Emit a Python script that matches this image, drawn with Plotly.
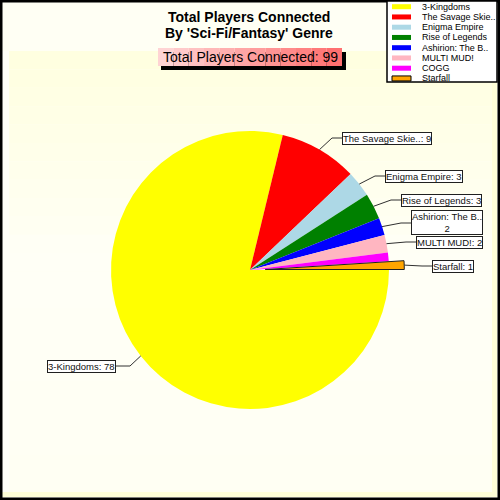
import math

import plotly.graph_objects as go

# data
games = ["3-Kingdoms", "The Savage Skie..", "Enigma Empire", "Rise of Legends",
         "Ashirion: The B..", "MULTI MUD!", "COGG", "Starfall"]
players = [78, 9, 3, 3, 2, 2, 1, 1]
slice_colors = ["#FFFF00", "#FF0000", "#ADD8E6", "#008000",
                "#0000FF", "#FFB6C1", "#FF00FF", "#FFA500"]
pulled = [0, 0, 0, 0, 0, 0, 0, 0.11]
show_label = [True, True, True, True, True, True, False, True]

title_lines = ["Total Players Connected", "By 'Sci-Fi/Fantasy' Genre"]
subtitle = "Total Players Connected: %d" % sum(players)

# layout constants (pixels, origin top-left)
W, H = 500, 500
CX, CY, R = 250, 270, 139
FONT = "Arial, Liberation Sans, sans-serif"
# callout boxes: (anchor x, centre y, side)
label_boxes = [(116, 366, "right"), (342, 138, "left"), (385, 176, "left"),
               (401, 200, "left"), (411, 223, "left"), (416, 242, "left"),
               None, (432, 266, "left")]


def px(x):
    return x / W


def py(y):
    return 1 - y / H


max_pull = max(pulled)
half = R * (1 + max_pull)

fig = go.Figure(go.Pie(
    labels=games,
    values=players,
    sort=False,
    direction="clockwise",
    rotation=90,
    pull=pulled,
    textinfo="none",
    hoverinfo="label+value",
    marker=dict(colors=slice_colors,
                line=dict(color=["rgba(0,0,0,0)"] * 7 + ["#202020"],
                          width=[0] * 7 + [1])),
    domain=dict(x=[px(CX - half), px(CX + half)],
                y=[py(CY + half), py(CY - half)]),
))

shapes = []
annotations = []

# background
shapes.append(dict(type="rect", xref="paper", yref="paper", x0=0, y0=0, x1=1, y1=1,
                   fillcolor="#FFFFF4", line=dict(width=0), layer="below"))
top_band = 51
bottom_band = 492
n_bands = 24
for i in range(n_bands):
    y0 = top_band + (bottom_band - top_band) * i / n_bands
    y1 = top_band + (bottom_band - top_band) * (i + 1) / n_bands
    t = i / (n_bands - 1)
    b = int(224 + 22 * min(1, t * 2.2) - 6 * max(0, t - 0.6))
    shapes.append(dict(type="rect", xref="paper", yref="paper",
                       x0=px(9), x1=px(492), y0=py(y1), y1=py(y0),
                       fillcolor="rgb(255,255,%d)" % b, line=dict(width=0), layer="below"))
shapes.append(dict(type="rect", xref="paper", yref="paper", x0=px(2), x1=px(9),
                   y0=py(492), y1=py(51), fillcolor="#FFFFF8", line=dict(width=0), layer="below"))
shapes.append(dict(type="rect", xref="paper", yref="paper", x0=px(2), x1=px(497),
                   y0=py(497), y1=py(492), fillcolor="#FFFFD8", line=dict(width=0), layer="below"))
shapes.append(dict(type="rect", xref="paper", yref="paper", x0=px(492), x1=px(497),
                   y0=py(497), y1=py(51), fillcolor="#FFFFD8", line=dict(width=0), layer="below"))
shapes.append(dict(type="rect", xref="paper", yref="paper", x0=0, y0=0, x1=1, y1=1,
                   line=dict(color="black", width=5), fillcolor="rgba(0,0,0,0)"))

# title
for i, line in enumerate(title_lines):
    annotations.append(dict(text="<b>%s</b>" % line, xref="paper", yref="paper",
                            x=px(249), y=py(17 + 16 * i), showarrow=False,
                            xanchor="center", yanchor="middle",
                            font=dict(family=FONT, size=14, color="black")))

# subtitle box with shadow
shapes.append(dict(type="rect", xref="paper", yref="paper", x0=px(161), x1=px(346),
                   y0=py(70), y1=py(52), fillcolor="black", line=dict(width=0)))
n_strips = 12
for i in range(n_strips):
    t = i / (n_strips - 1)
    g = int(212 - 100 * t)
    x0 = 158 + (342 - 158) * i / n_strips
    x1 = 158 + (342 - 158) * (i + 1) / n_strips
    shapes.append(dict(type="rect", xref="paper", yref="paper", x0=px(x0), x1=px(x1),
                       y0=py(66), y1=py(48), fillcolor="rgb(255,%d,%d)" % (g, g),
                       line=dict(width=0)))
annotations.append(dict(text=subtitle, xref="paper", yref="paper", x=px(250), y=py(57),
                        showarrow=False, xanchor="center", yanchor="middle",
                        font=dict(family=FONT, size=14, color="black")))

# callouts
total = sum(players)
start = 0.0
for i, v in enumerate(players):
    sweep = 360.0 * v / total
    mid = math.radians(start + sweep / 2)
    start += sweep
    if not show_label[i]:
        continue
    r = R * (1 + pulled[i])
    hx, hy = CX + r * math.cos(mid), CY + r * math.sin(mid)
    bx, by, side = label_boxes[i]
    ex = bx - 10 if side == "left" else bx + 14
    shapes.append(dict(type="path", xref="paper", yref="paper",
                       path="M %f,%f L %f,%f L %f,%f" % (px(hx), py(hy), px(ex), py(by),
                                                         px(bx), py(by)),
                       line=dict(color="#303030", width=1)))
    text = "%s: %d" % (games[i], v)
    if games[i].startswith("Ashirion"):
        text = "%s<br>%d" % (games[i], v)
    annotations.append(dict(text=text, xref="paper", yref="paper", x=px(bx), y=py(by),
                            showarrow=False, xanchor=side, yanchor="middle",
                            align="center", bgcolor="white", bordercolor="#202020",
                            borderwidth=1, borderpad=0,
                            font=dict(family=FONT, size=9.5, color="#101010")))

# legend
shapes.append(dict(type="rect", xref="paper", yref="paper", x0=px(387), x1=px(497),
                   y0=py(82), y1=py(1), fillcolor="white",
                   line=dict(color="black", width=1.5)))
for i, name in enumerate(games):
    yc = 6.7 + 10.25 * i
    shapes.append(dict(type="rect", xref="paper", yref="paper", x0=px(392), x1=px(411),
                       y0=py(yc + 2.5), y1=py(yc - 2.5), fillcolor=slice_colors[i],
                       line=dict(color="black", width=1) if pulled[i] else dict(width=0)))
    annotations.append(dict(text=name, xref="paper", yref="paper", x=px(420), y=py(yc),
                            showarrow=False, xanchor="left", yanchor="middle",
                            font=dict(family=FONT, size=9, color="black")))

fig.update_layout(
    width=W,
    height=H,
    margin=dict(l=0, r=0, t=0, b=0),
    showlegend=False,
    paper_bgcolor="#FFFFF4",
    shapes=shapes,
    annotations=annotations,
)

fig.write_html("out.html", config={"displayModeBar": False},
               post_script="document.body.style.margin='0';")
